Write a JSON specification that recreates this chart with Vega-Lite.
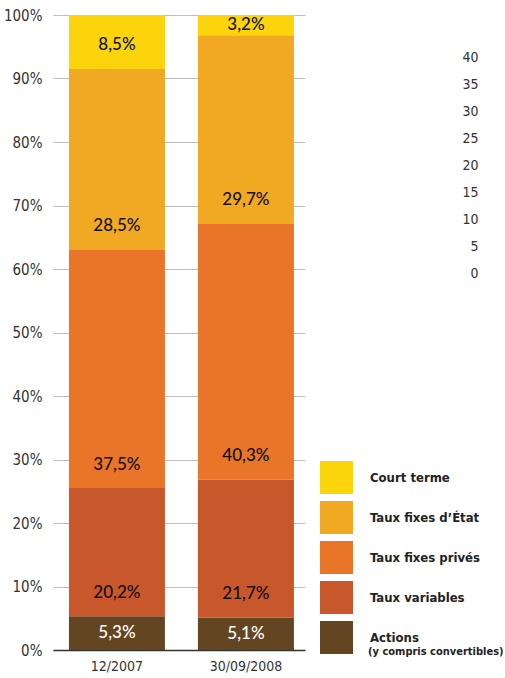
{
  "$schema": "https://vega.github.io/schema/vega-lite/v6.json",
  "autosize": "none",
  "width": 252,
  "height": 635,
  "padding": {"left": 53, "top": 15, "right": 200, "bottom": 28},
  "background": "white",
  "view": {"stroke": "transparent", "strokeWidth": 0},
  "config": {
    "view": {"stroke": "transparent", "strokeWidth": 0},
    "font": "DejaVu Sans Condensed, Roboto",
    "axis": {"domain": false, "ticks": false}
  },
  "layer": [
    {
      "data": {
        "values": [
          {"period": "12/2007", "cat": "Actions", "order": 1, "value": 5.3},
          {"period": "12/2007", "cat": "Taux variables", "order": 2, "value": 20.2},
          {"period": "12/2007", "cat": "Taux fixes privés", "order": 3, "value": 37.5},
          {"period": "12/2007", "cat": "Taux fixes d’État", "order": 4, "value": 28.5},
          {"period": "12/2007", "cat": "Court terme", "order": 5, "value": 8.5},
          {"period": "30/09/2008", "cat": "Actions", "order": 1, "value": 5.1},
          {"period": "30/09/2008", "cat": "Taux variables", "order": 2, "value": 21.7},
          {"period": "30/09/2008", "cat": "Taux fixes privés", "order": 3, "value": 40.3},
          {"period": "30/09/2008", "cat": "Taux fixes d’État", "order": 4, "value": 29.7},
          {"period": "30/09/2008", "cat": "Court terme", "order": 5, "value": 3.2}
        ]
      },
      "transform": [
        {"stack": "value", "groupby": ["period"], "sort": [{"field": "order", "order": "ascending"}], "as": ["y0", "y1"]},
        {"calculate": "datum.y0 + min(3.7, (datum.y1 - datum.y0) / 2)", "as": "lab"},
        {"calculate": "replace(format(datum.value, '.1f'), '.', ',') + '%'", "as": "txt"}
      ],
      "encoding": {
        "x": {
          "field": "period",
          "type": "nominal",
          "title": null,
          "scale": {"paddingInner": 0.256, "paddingOuter": 0.1047, "align": 0.59},
          "axis": {
            "domain": true,
            "domainColor": "#333333",
            "domainWidth": 1.5,
            "ticks": false,
            "labelAngle": 0,
            "labelPadding": 9,
            "labelFontSize": 14,
            "labelColor": "#333333"
          }
        }
      },
      "layer": [
        {
          "mark": {"type": "bar"},
          "encoding": {
            "y": {
              "field": "y1",
              "type": "quantitative",
              "title": null,
              "scale": {"domain": [0, 100], "nice": false},
              "axis": {
                "values": [0, 10, 20, 30, 40, 50, 60, 70, 80, 90, 100],
                "labelExpr": "datum.value + '%'",
                "domain": false,
                "ticks": false,
                "labelPadding": 11,
                "labelFontSize": 15,
                "labelColor": "#333333",
                "gridColor": "#bdbdbd",
                "gridWidth": 1
              }
            },
            "y2": {"field": "y0"},
            "color": {
              "field": "cat",
              "type": "nominal",
              "title": null,
              "scale": {
                "domain": ["Court terme", "Taux fixes d’État", "Taux fixes privés", "Taux variables", "Actions"],
                "range": ["#FBD40B", "#F1A823", "#E87528", "#C9572C", "#644521"]
              },
              "legend": {
                "orient": "none",
                "legendX": 267,
                "legendY": 446,
                "symbolType": "square",
                "symbolSize": 1089,
                "symbolStrokeWidth": 0,
                "symbolOpacity": 1,
                "rowPadding": 7,
                "labelOffset": 17,
                "labelFontSize": 13,
                "labelFontWeight": "bold",
                "labelColor": "#222222",
                "labelLimit": 200
              }
            }
          }
        },
        {
          "mark": {"type": "text", "font": "Lato", "fontSize": 17, "fontWeight": 500, "baseline": "middle"},
          "encoding": {
            "y": {"field": "lab", "type": "quantitative"},
            "text": {"field": "txt"},
            "color": {
              "condition": {"test": "datum.cat == 'Actions'", "value": "white"},
              "value": "#111111"
            }
          }
        }
      ]
    },
    {
      "data": {"values": [{"s": 0, "note": "(y compris convertibles)"}, {"s": 40, "note": "(y compris convertibles)"}]},
      "mark": {"type": "point", "opacity": 0, "strokeWidth": 0, "size": 0, "filled": true},
      "encoding": {
        "y": {
          "field": "s",
          "type": "quantitative",
          "title": null,
          "scale": {"domain": [-69.63, 47.96], "nice": false, "zero": false},
          "axis": {
            "orient": "left",
            "offset": -433,
            "values": [0, 5, 10, 15, 20, 25, 30, 35, 40],
            "domain": false,
            "ticks": false,
            "grid": false,
            "labelAlign": "right",
            "labelPadding": 8,
            "labelFontSize": 14,
            "labelColor": "#333333"
          }
        },
        "shape": {
          "field": "note",
          "type": "nominal",
          "title": null,
          "legend": {
            "orient": "none",
            "legendX": 304,
            "legendY": 631,
            "symbolOpacity": 0,
            "symbolStrokeWidth": 0,
            "symbolSize": 1,
            "labelOffset": 0,
            "labelFontSize": 11,
            "labelFontWeight": "bold",
            "labelColor": "#222222",
            "labelLimit": 220
          }
        }
      }
    }
  ],
  "resolve": {"scale": {"y": "independent"}, "axis": {"y": "independent"}}
}
